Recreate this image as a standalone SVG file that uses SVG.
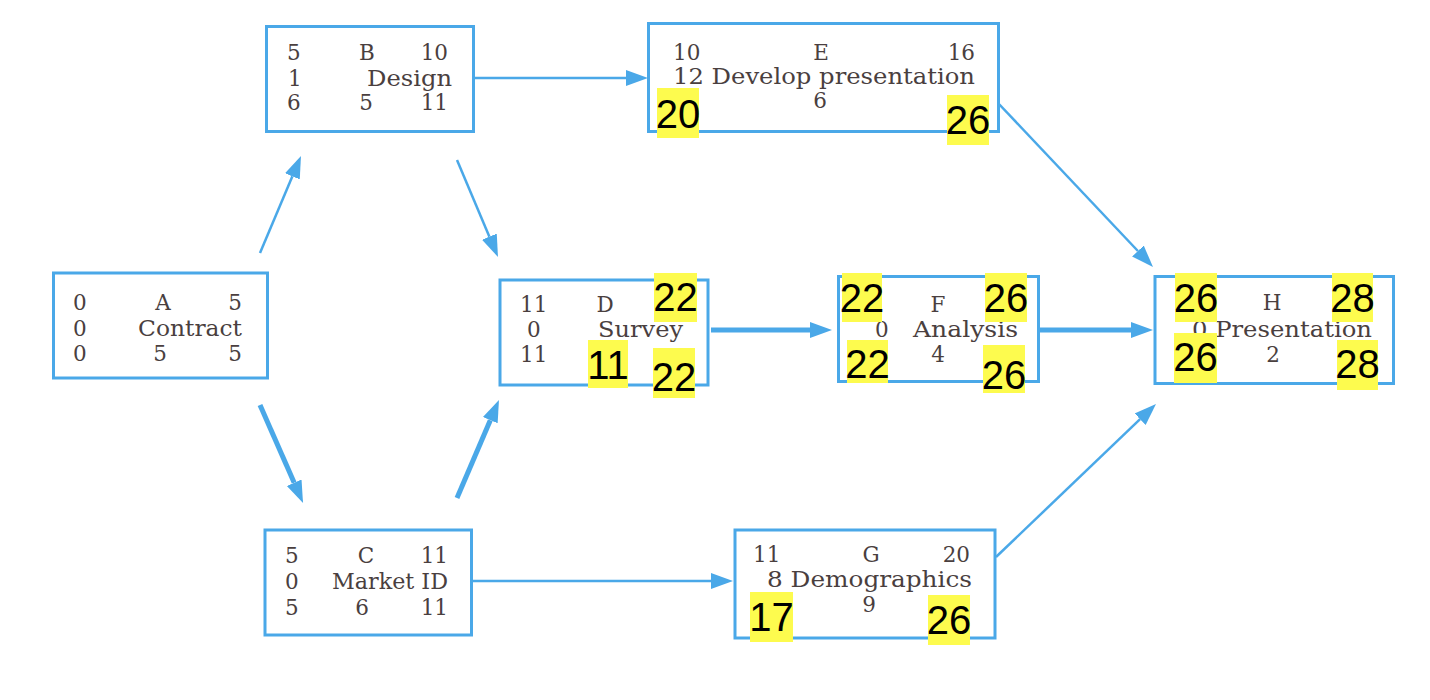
<svg xmlns="http://www.w3.org/2000/svg" width="1430" height="700" viewBox="0 0 1430 700">
<style>
.box{fill:#fff;stroke:#4aa8e8;stroke-width:3}
.t{font-family:"DejaVu Serif","Liberation Serif",serif;font-size:21.5px;fill:#4a3f3f}
.m{text-anchor:middle}
.e{text-anchor:end}
.hl{fill:#fdfb4e}
.h{font-family:"Liberation Sans",Arial,sans-serif;font-size:40px;fill:#000;text-anchor:middle}
.c{stroke:#4aa8e8;fill:none}
.thin{stroke-width:2.5;marker-end:url(#ah)}
.thick{stroke-width:5;marker-end:url(#ah)}
</style>
<defs>
<marker id="ah" markerUnits="userSpaceOnUse" markerWidth="24" markerHeight="18" viewBox="0 -9 24 18" refX="0" refY="0" orient="auto">
<path d="M0,-8 L22,0 L0,8 z" fill="#4aa8e8"/>
</marker>
</defs>
<rect width="1430" height="700" fill="#fff"/>
<g id="connectors">
<line class="c thin" x1="260" y1="253" x2="292.4" y2="176.3"/>
<line class="c thin" x1="457" y1="160" x2="489.4" y2="236.7"/>
<line class="c thick" x1="260" y1="405" x2="294.2" y2="482.8"/>
<line class="c thick" x1="457" y1="498" x2="490.3" y2="420.2"/>
<line class="c thin" x1="473" y1="78" x2="626" y2="78"/>
<line class="c thick" x1="711" y1="330" x2="810" y2="330"/>
<line class="c thick" x1="1040" y1="330" x2="1131" y2="330"/>
<line class="c thin" x1="998" y1="103" x2="1137.9" y2="251"/>
<line class="c thin" x1="472" y1="581" x2="711" y2="581"/>
<line class="c thin" x1="996" y1="557" x2="1140.1" y2="419.2"/>
</g>
<g id="node-A">
<rect class="box" x="53.5" y="273" width="214" height="105"/>
<text class="t" x="73" y="310">0</text><text class="t m" x="163" y="310">A</text><text class="t e" x="242" y="310">5</text>
<text class="t" x="73" y="336">0</text><text class="t" x="138" y="336" textLength="104" lengthAdjust="spacingAndGlyphs">Contract</text>
<text class="t" x="73" y="361">0</text><text class="t m" x="160" y="361">5</text><text class="t e" x="242" y="361">5</text>
</g>
<g id="node-B">
<rect class="box" x="266.5" y="26.5" width="207" height="105"/>
<text class="t" x="287" y="60">5</text><text class="t m" x="367" y="60">B</text><text class="t e" x="448" y="60">10</text>
<text class="t" x="288" y="85.5">1</text><text class="t" x="367" y="85.5" textLength="85" lengthAdjust="spacingAndGlyphs">Design</text>
<text class="t" x="287" y="110">6</text><text class="t m" x="366" y="110">5</text><text class="t e" x="448" y="110">11</text>
</g>
<g id="node-E">
<rect class="box" x="648.5" y="23.5" width="350" height="108"/>
<text class="t" x="673" y="60">10</text><text class="t m" x="821" y="60">E</text><text class="t e" x="975" y="60">16</text>
<text class="t" x="673" y="84" textLength="302" lengthAdjust="spacingAndGlyphs">12 Develop presentation</text>
<text class="t m" x="820" y="108">6</text>
<rect class="hl" x="657" y="88" width="42" height="50"/><text class="h" x="678" y="128">20</text>
<rect class="hl" x="947" y="95" width="42" height="50"/><text class="h" x="968" y="134">26</text>
</g>
<g id="node-D">
<rect class="box" x="500" y="280" width="208" height="105"/>
<text class="t" x="520" y="312">11</text><text class="t m" x="605" y="312">D</text>
<text class="t" x="527" y="337">0</text><text class="t" x="598" y="337" textLength="85" lengthAdjust="spacingAndGlyphs">Survey</text>
<text class="t" x="520" y="362">11</text>
<rect class="hl" x="654" y="273" width="43" height="49"/><text class="h" x="675.5" y="311">22</text>
<rect class="hl" x="588" y="340" width="40" height="48"/><text class="h" x="608" y="379">11</text>
<rect class="hl" x="653" y="348" width="42" height="50"/><text class="h" x="674" y="391">22</text>
</g>
<g id="node-F">
<rect class="box" x="838.5" y="276.5" width="200" height="105"/>
<text class="t m" x="938" y="312">F</text>
<text class="t" x="875" y="337">0</text><text class="t" x="913" y="337" textLength="105" lengthAdjust="spacingAndGlyphs">Analysis</text>
<text class="t m" x="938" y="362">4</text>
<rect class="hl" x="842" y="273" width="40" height="49"/><text class="h" x="862" y="312">22</text>
<rect class="hl" x="985" y="273" width="42" height="49"/><text class="h" x="1006" y="312">26</text>
<rect class="hl" x="847" y="340" width="41" height="43"/><text class="h" x="867.5" y="378">22</text>
<rect class="hl" x="983" y="345" width="42" height="48"/><text class="h" x="1004" y="389">26</text>
</g>
<g id="node-H">
<rect class="box" x="1155" y="276.5" width="238.5" height="107"/>
<text class="t m" x="1272" y="310">H</text>
<text class="t" x="1192" y="337" textLength="180" lengthAdjust="spacingAndGlyphs">0 Presentation</text>
<text class="t m" x="1273" y="362">2</text>
<rect class="hl" x="1175" y="273" width="42" height="49"/><text class="h" x="1196" y="312">26</text>
<rect class="hl" x="1332" y="273" width="41" height="49"/><text class="h" x="1352.5" y="312">28</text>
<rect class="hl" x="1174" y="333" width="43" height="50"/><text class="h" x="1195.5" y="371">26</text>
<rect class="hl" x="1337" y="340" width="41" height="50"/><text class="h" x="1357.5" y="378">28</text>
</g>
<g id="node-C">
<rect class="box" x="265" y="530" width="206.5" height="105"/>
<text class="t" x="285" y="563">5</text><text class="t m" x="366" y="563">C</text><text class="t e" x="448" y="563">11</text>
<text class="t" x="285" y="589">0</text><text class="t" x="332" y="589" textLength="116" lengthAdjust="spacingAndGlyphs">Market ID</text>
<text class="t" x="285" y="615">5</text><text class="t m" x="362" y="615">6</text><text class="t e" x="448" y="615">11</text>
</g>
<g id="node-G">
<rect class="box" x="735" y="530" width="260" height="108"/>
<text class="t" x="753" y="562">11</text><text class="t m" x="871" y="562">G</text><text class="t e" x="970" y="562">20</text>
<text class="t" x="767" y="587" textLength="205" lengthAdjust="spacingAndGlyphs">8 Demographics</text>
<text class="t m" x="869" y="612">9</text>
<rect class="hl" x="750" y="592" width="43" height="50"/><text class="h" x="771.5" y="631">17</text>
<rect class="hl" x="928" y="595" width="42" height="50"/><text class="h" x="949" y="634">26</text>
</g>
</svg>
